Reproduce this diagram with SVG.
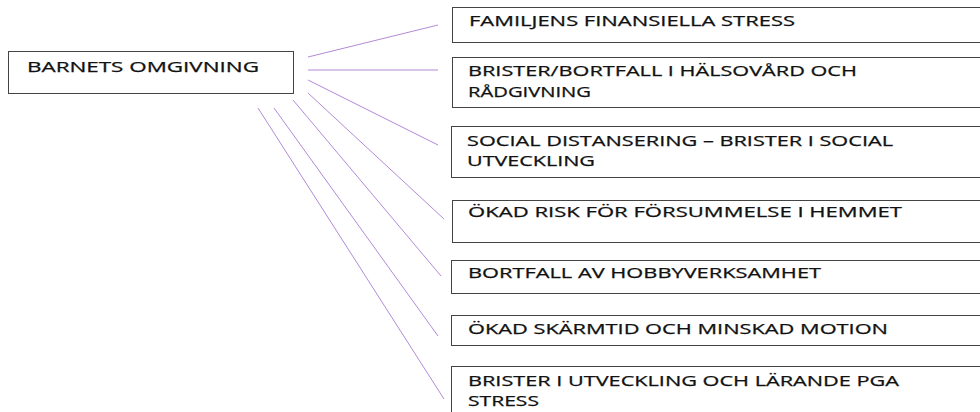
<svg xmlns="http://www.w3.org/2000/svg" width="980" height="412" viewBox="0 0 980 412">
<style>
.box{fill:#fff;stroke:#444;stroke-width:1}
.t{font-family:"Open Sans","DejaVu Sans",sans-serif;font-size:14px;fill:#111;stroke:#111;stroke-width:0.25}
.c{stroke:#b38ad8;stroke-width:1;fill:none}
</style>
<rect width="980" height="412" fill="#fff"/>
<g id="connectors">
<line class="c" x1="308" y1="57" x2="438" y2="25"/>
<line class="c" x1="308" y1="70" x2="438" y2="70"/>
<line class="c" x1="308" y1="80" x2="438" y2="145"/>
<line class="c" x1="308" y1="93" x2="444" y2="219"/>
<line class="c" x1="293" y1="100" x2="441" y2="276"/>
<line class="c" x1="274" y1="108" x2="438" y2="336"/>
<line class="c" x1="258" y1="108" x2="444" y2="399"/>
</g>
<g id="root">
<rect class="box" x="8.5" y="51.5" width="285" height="42"/>
<text class="t" x="27" y="72" textLength="232" lengthAdjust="spacingAndGlyphs">BARNETS OMGIVNING</text>
</g>
<g id="n1">
<rect class="box" x="452.5" y="7.5" width="540" height="35"/>
<text class="t" x="469" y="26" textLength="326" lengthAdjust="spacingAndGlyphs">FAMILJENS FINANSIELLA STRESS</text>
</g>
<g id="n2">
<rect class="box" x="452.5" y="57.5" width="540" height="50"/>
<text class="t" x="468" y="76" textLength="389" lengthAdjust="spacingAndGlyphs">BRISTER/BORTFALL I HÄLSOVÅRD OCH</text>
<text class="t" x="468" y="97" textLength="123" lengthAdjust="spacingAndGlyphs">RÅDGIVNING</text>
</g>
<g id="n3">
<rect class="box" x="451.5" y="126.5" width="540" height="51"/>
<text class="t" x="467" y="146" textLength="426" lengthAdjust="spacingAndGlyphs">SOCIAL DISTANSERING – BRISTER I SOCIAL</text>
<text class="t" x="467" y="166" textLength="128" lengthAdjust="spacingAndGlyphs">UTVECKLING</text>
</g>
<g id="n4">
<rect class="box" x="452.5" y="200.5" width="540" height="42"/>
<text class="t" x="468" y="217" textLength="434" lengthAdjust="spacingAndGlyphs">ÖKAD RISK FÖR FÖRSUMMELSE I HEMMET</text>
</g>
<g id="n5">
<rect class="box" x="451.5" y="260.5" width="540" height="33"/>
<text class="t" x="468" y="278" textLength="353" lengthAdjust="spacingAndGlyphs">BORTFALL AV HOBBYVERKSAMHET</text>
</g>
<g id="n6">
<rect class="box" x="451.5" y="315.5" width="540" height="30"/>
<text class="t" x="468" y="334" textLength="420" lengthAdjust="spacingAndGlyphs">ÖKAD SKÄRMTID OCH MINSKAD MOTION</text>
</g>
<g id="n7">
<rect class="box" x="451.5" y="366.5" width="540" height="60"/>
<text class="t" x="468" y="386" textLength="431" lengthAdjust="spacingAndGlyphs">BRISTER I UTVECKLING OCH LÄRANDE PGA</text>
<text class="t" x="468" y="406" textLength="71" lengthAdjust="spacingAndGlyphs">STRESS</text>
</g>
</svg>
